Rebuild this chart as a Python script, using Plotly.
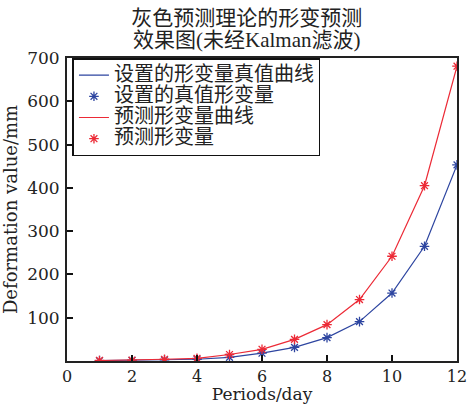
import plotly.graph_objects as go

periods = [1, 2, 3, 4, 5, 6, 7, 8, 9, 10, 11, 12]
true_values = [1, 1.5, 2.5, 4, 8.5, 18, 31.5, 54, 91, 157, 265, 453]
pred_values = [1.2, 2, 4, 6, 15, 27, 50, 84, 142, 242, 405, 681]

x_ticks = [0, 2, 4, 6, 8, 10, 12]
y_ticks = [100, 200, 300, 400, 500, 600, 700]

names = ["设置的形变量真值曲线", "设置的真值形变量", "预测形变量曲线", "预测形变量"]
title_lines = ["灰色预测理论的形变预测", "效果图(未经Kalman滤波)"]

blue = "#2d45a0"
red = "#ec2a36"
serif = "DejaVu Serif, Liberation Serif, serif"
cjk = "Liberation Serif, Noto Sans CJK SC, serif"


def big(s, px):
    return '<span style="font-size:%dpx">%s</span>' % (px, s)


fig = go.Figure()
fig.add_trace(go.Scatter(x=periods, y=true_values, mode="lines",
                         line=dict(color=blue, width=1.2), name=big(names[0], 20)))
fig.add_trace(go.Scatter(x=periods, y=true_values, mode="markers",
                         marker=dict(symbol="asterisk-open", size=8, color=blue,
                                     line=dict(color=blue, width=1.3)),
                         name=big(names[1], 20)))
fig.add_trace(go.Scatter(x=periods, y=pred_values, mode="lines",
                         line=dict(color=red, width=1.2), name=big(names[2], 20)))
fig.add_trace(go.Scatter(x=periods, y=pred_values, mode="markers",
                         marker=dict(symbol="asterisk-open", size=8, color=red,
                                     line=dict(color=red, width=1.3)),
                         name=big(names[3], 20)))

fig.update_layout(
    width=470, height=404,
    margin=dict(l=67, r=13, t=58, b=43, autoexpand=False),
    paper_bgcolor="white", plot_bgcolor="white",
    font=dict(family=cjk, size=18, color="#222"),
    title=dict(text=big(title_lines[0], 21) + "<br>" + big(title_lines[1], 21),
               x=0.525, xanchor="center", y=0.938, yanchor="top",
               font=dict(family=cjk, size=17, color="#222")),
    showlegend=True,
    legend=dict(x=0.014, y=1.0, xanchor="left", yanchor="top",
                bordercolor="#111", borderwidth=1.5, bgcolor="white",
                font=dict(family=cjk, size=14, color="#222"),
                tracegroupgap=0, itemwidth=30),
    xaxis=dict(range=[0, 12], tickvals=x_ticks, ticks="inside", ticklen=6,
               tickwidth=2, tickcolor="#111", showgrid=False, zeroline=False,
               showline=True, linecolor="#222", linewidth=2, mirror=True,
               automargin=False, ticklabelstandoff=0,
               tickfont=dict(family=serif, size=16, color="#222"),
               title=dict(text="Periods/day", standoff=1,
                          font=dict(family=serif, size=17, color="#222"))),
    yaxis=dict(range=[0, 700], tickvals=y_ticks, ticks="inside", ticklen=6,
               tickwidth=2, tickcolor="#111", showgrid=False, zeroline=False,
               showline=True, linecolor="#222", linewidth=2, mirror=True,
               automargin=False, ticklabelstandoff=2,
               tickfont=dict(family=serif, size=17, color="#222"),
               title=dict(text="Deformation value/mm", standoff=6,
                          font=dict(family=serif, size=18, color="#222"))),
)

fig.write_html("out.html")
